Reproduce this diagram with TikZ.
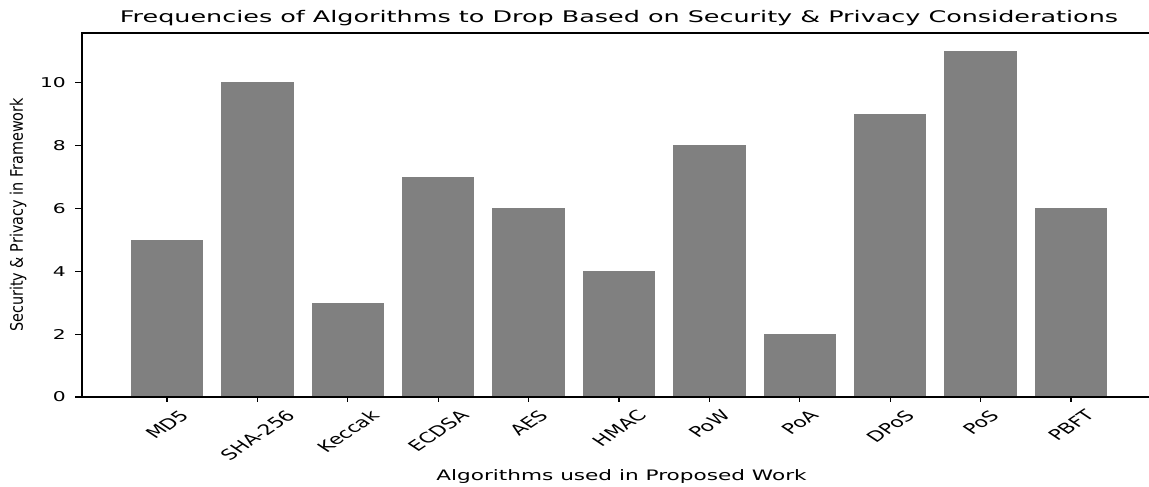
\documentclass[tikz,border=0pt]{standalone}
\usepackage{fontspec}
\setmainfont{DejaVu Sans}
\definecolor{barfill}{HTML}{808080}
\definecolor{txt}{HTML}{000000}
\tikzset{
  spine/.style={draw=black, line width=1.3pt},
  tickmark/.style={draw=black, line width=1.1pt},
  ytick/.style={anchor=east, inner sep=0pt, text=txt, font=\fontsize{13.5}{13.5}\selectfont},
  xtick/.style={anchor=north, inner sep=0pt, text=txt, font=\fontsize{14.5}{14.5}\selectfont},
  axlabel/.style={inner sep=0pt, text=txt, font=\fontsize{14.4}{14.4}\selectfont},
  titlestyle/.style={anchor=base, inner sep=0pt, text=txt, font=\fontsize{16}{16}\selectfont}
}
\begin{document}
\begin{tikzpicture}[x=1pt,y=1pt]
\useasboundingbox (0,0) rectangle (1149,487);
\fill[white] (0,0) rectangle (1149,487);
% bars
\foreach \i/\v/\n in {0/5/MD5,1/10/SHA-256,2/3/Keccak,3/7/ECDSA,4/6/AES,5/4/HMAC,6/8/PoW,7/2/PoA,8/9/DPoS,9/11/PoS,10/6/PBFT}{
  \pgfmathsetmacro\xc{167+90.4*\i}
  \pgfmathsetmacro\yt{90+31.47*\v}
  \fill[barfill] (\xc-36.15,90) rectangle (\xc+36.15,\yt);
  \draw[tickmark] (\xc,90) -- (\xc,84.5);
  \node[xtick] (xl\i) at (\xc,78) {\scalebox{1.5}[1]{\rotatebox{45}{\n}}};
}
% y ticks
\foreach \v in {0,2,4,6,8,10}{
  \pgfmathsetmacro\yy{90+31.47*\v}
  \draw[tickmark] (82,\yy) -- (74.5,\yy);
  \node[ytick] (yl\v) at (66,\yy) {\scalebox{1.5}[1]{\v}};
}
% spines
\draw[spine] (1150,454) -- (82,454) -- (82,90) -- (1150,90);
% title
\node[titlestyle] (title) at (619,464.5) {\scalebox{1.59}[1]{Frequencies of Algorithms to Drop Based on Security \& Privacy Considerations}};
% axis labels
\node[axlabel, anchor=base] (xlabel) at (621.5,6) {\scalebox{1.5}[1]{Algorithms used in Proposed Work}};
\node[axlabel, anchor=center] (ylabel) at (18.2,272) {\scalebox{1.2}[1]{\rotatebox{90}{Security \& Privacy in Framework}}};
\end{tikzpicture}
\end{document}
